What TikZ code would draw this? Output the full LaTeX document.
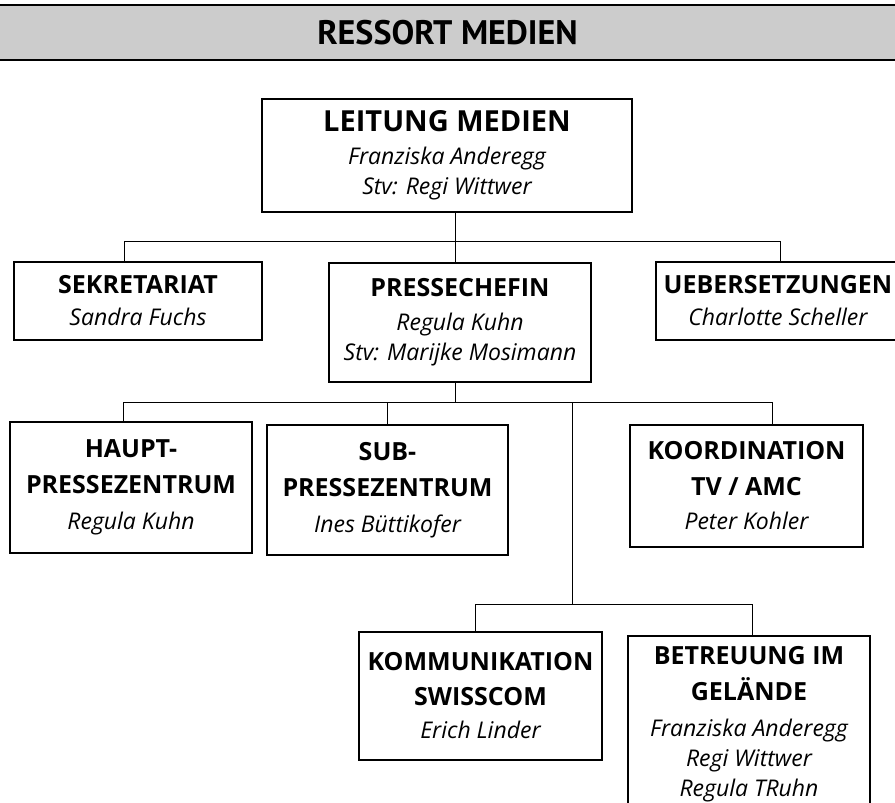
\documentclass[tikz,border=0pt]{standalone}
\usepackage{fontspec}
\setmainfont{Open Sans}
\newfontfamily\titlefont{PT Sans}
\usetikzlibrary{positioning}

\newcommand{\unitname}[1]{{\fontsize{25}{30}\selectfont\bfseries #1}}
\newcommand{\person}[1]{{\fontsize{23}{30}\selectfont\itshape #1}}

\begin{document}
\begin{tikzpicture}[x=1pt,y=-1pt,
  unit/.style={draw, line width=1.2pt, align=center, inner sep=0pt, font=\fontsize{23}{30}\selectfont},
  link/.style={line width=1pt}]
\useasboundingbox (0,0) rectangle (895,803);
\node [draw, line width=2pt, fill=black!20, minimum width=905pt, minimum height=55pt, inner sep=0pt] (ressort) at (447.5,32.5)
  {\titlefont\fontsize{34}{36}\selectfont\bfseries RESSORT MEDIEN};
\node [unit, minimum width=370pt, minimum height=113pt] (lead) at (447,155.5)
  {{\fontsize{29}{30}\selectfont\bfseries LEITUNG MEDIEN}\\[3pt] \person{Franziska Anderegg}\\ \person{Stv: Regi Wittwer}};
\node [unit, minimum width=248pt, minimum height=78pt] (sekr) at (138,301)
  {\unitname{SEKRETARIAT}\\[2pt] \person{Sandra Fuchs}};
\node [unit, minimum width=262pt, minimum height=119pt] (presse) at (460,322.5)
  {\unitname{PRESSECHEFIN}\\[4pt] \person{Regula Kuhn}\\ \person{Stv: Marijke Mosimann}};
\node [unit, minimum width=244pt, minimum height=78pt] (ueber) at (778,301)
  {\unitname{UEBERSETZUNGEN}\\[2pt] \person{Charlotte Scheller}};
\node [unit, minimum width=242pt, minimum height=131pt] (haupt) at (131,487.5)
  {\unitname{HAUPT-}\\[6pt] \unitname{PRESSEZENTRUM}\\[6pt] \person{Regula Kuhn}};
\node [unit, minimum width=241pt, minimum height=130pt] (sub) at (387.5,490)
  {\unitname{SUB-}\\[6pt] \unitname{PRESSEZENTRUM}\\[6pt] \person{Ines Büttikofer}};
\node [unit, minimum width=233pt, minimum height=122pt] (koord) at (746.5,486)
  {\unitname{KOORDINATION}\\[6pt] \unitname{TV / AMC}\\[4pt] \person{Peter Kohler}};
\node [unit, minimum width=243pt, minimum height=128pt] (komm) at (480.5,696)
  {\unitname{KOMMUNIKATION}\\[5pt] \unitname{SWISSCOM}\\[3pt] \person{Erich Linder}};
\node [unit, minimum width=242pt, minimum height=176pt] (betr) at (749,724)
  {\unitname{BETREUUNG IM}\\[6pt] \unitname{GELÄNDE}\\[6pt] \person{Franziska Anderegg}\\ \person{Regi Wittwer}\\ \person{Regula TRuhn}};
\coordinate (top) at (455,241);
\coordinate (sekrlink) at (124,241);
\coordinate (ueberlink) at (780,241);
\coordinate (hauptlink) at (123,402);
\coordinate (sublink) at (387,402);
\coordinate (downlink) at (572,402);
\coordinate (koordlink) at (772,402);
\coordinate (fork) at (572,604);
\coordinate (kommlink) at (475,604);
\coordinate (betrlink) at (752,604);
\draw [link] (lead.south -| top) -- (presse.north -| top);
\draw [link] (sekr.north -| sekrlink) |- (ueberlink) -- (ueber.north -| ueberlink);
\draw [link] (presse.south -| top) -- (top |- hauptlink);
\draw [link] (haupt.north -| hauptlink) |- (koordlink) -- (koord.north -| koordlink);
\draw [link] (sublink) -- (sub.north -| sublink);
\draw [link] (downlink) -- (fork);
\draw [link] (komm.north -| kommlink) |- (betrlink) -- (betr.north -| betrlink);
\end{tikzpicture}
\end{document}
